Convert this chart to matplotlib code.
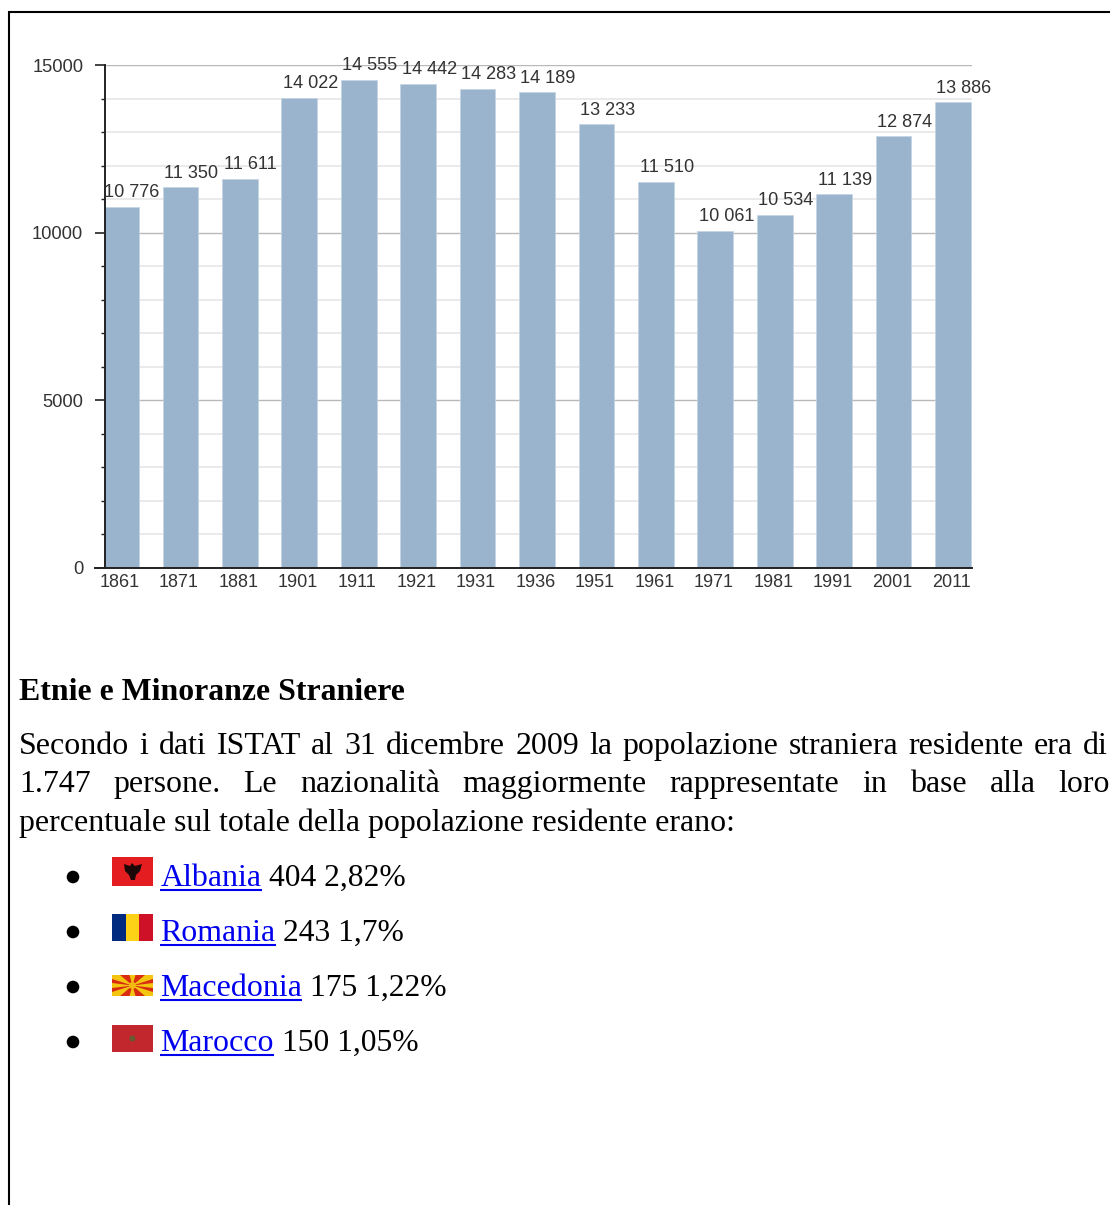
import matplotlib
matplotlib.use('Agg')
import matplotlib.pyplot as plt
from matplotlib.patches import Rectangle, Circle, Polygon
from matplotlib.transforms import ScaledTranslation

years = ['1861', '1871', '1881', '1901', '1911', '1921', '1931', '1936',
         '1951', '1961', '1971', '1981', '1991', '2001', '2011']
population = [10776, 11350, 11611, 14022, 14555, 14442, 14283, 14189,
              13233, 11510, 10061, 10534, 11139, 12874, 13886]
major_ticks = [0, 5000, 10000, 15000]
minor_ticks = [1000, 2000, 3000, 4000, 6000, 7000, 8000, 9000,
               11000, 12000, 13000, 14000]

heading = 'Etnie e Minoranze Straniere'
body_lines = [
    'Secondo i dati ISTAT al 31 dicembre 2009 la popolazione straniera residente era di',
    '1.747 persone. Le nazionalità maggiormente rappresentate in base alla loro',
]
body_last = 'percentuale sul totale della popolazione residente erano:'
countries = ['Albania', 'Romania', 'Macedonia', 'Marocco']
counts = ['404 2,82%', '243 1,7%', '175 1,22%', '150 1,05%']

W, H = 1110, 1205
SERIF = 'Liberation Serif'
SANS = 'Liberation Sans'
PX = 0.72  # points per pixel at dpi 100
BODY = 31.9 * PX
ROW = 31.5 * PX

fig = plt.figure(figsize=(W / 100, H / 100), dpi=100)

# page layer, in pixel coordinates
page = fig.add_axes([0, 0, 1, 1], zorder=0)
page.set_xlim(0, W)
page.set_ylim(H, 0)
page.axis('off')

# chart
ax = fig.add_axes([105 / W, 1 - 568 / H, 867 / W, 503 / H], zorder=1)
ax.patch.set_alpha(0)
ax.bar(range(len(years)), population, width=0.6, color='#9ab4cd',
       edgecolor='#c4d4e3', linewidth=0.5, zorder=3)
ax.set_ylim(0, 15000)
ax.set_yticks(major_ticks)
ax.set_yticks(minor_ticks, minor=True)
ax.set_xticks(range(len(years)), years)
ax.grid(axis='y', which='major', color='#b9b9b9', lw=1.0, zorder=1)
ax.grid(axis='y', which='minor', color='#eaeaea', lw=1.4, zorder=1)
ax.tick_params(axis='y', which='major', length=7.2, width=1.2, color='#222222',
               pad=8.5, labelsize=18.4 * PX, labelcolor='#333333')
ax.tick_params(axis='y', which='minor', length=2.6, width=1.0, color='#222222')
ax.tick_params(axis='x', length=0, pad=4, labelsize=18 * PX, labelcolor='#333333')
for lab in ax.get_yticklabels():
    lab.set_family(SANS)
# year labels sit a little left of the bar centres
shift = ScaledTranslation(-1.5 / 100, 0, fig.dpi_scale_trans)
for lab in ax.get_xticklabels():
    lab.set_family(SANS)
    lab.set_transform(lab.get_transform() + shift)
for side in ['top', 'right']:
    ax.spines[side].set_visible(False)
for side in ['left', 'bottom']:
    ax.spines[side].set_color('#222222')
    ax.spines[side].set_linewidth(1.4)
    ax.spines[side].set_zorder(5)
ax.plot([-0.27 - 10 * 14.59 / 867, -0.27], [0, 0], color='#222222', lw=1.4,
        clip_on=False, zorder=5)
ax.set_xlim(-0.27, 14.32)

for i, v in enumerate(population):
    ax.annotate(f'{v:,}'.replace(',', ' '), (i, v), xytext=(7.9, 10.2),
                textcoords='offset points', ha='center', va='center',
                family=SANS, fontsize=18.2 * PX, color='#333333', zorder=6,
                annotation_clip=False)

# outer frame
page.plot([W, 9, 9], [12, 12, H], color='black', lw=1.5, solid_joinstyle='miter')

page.text(19, 700, heading, family=SERIF, weight='bold', fontsize=31.8 * PX,
          va='baseline', color='black')

renderer = fig.canvas.get_renderer()


def text_width(s, **kw):
    t = page.text(0, 0, s, **kw)
    w = t.get_window_extent(renderer).width
    t.remove()
    return w


def justified(line, y, x0, x1):
    words = line.split(' ')
    widths = [text_width(w, family=SERIF, fontsize=BODY) for w in words]
    gap = (x1 - x0 - sum(widths)) / (len(words) - 1)
    x = x0
    for w, wd in zip(words, widths):
        page.text(x, y, w, family=SERIF, fontsize=BODY, va='baseline', color='black')
        x += wd + gap


justified(body_lines[0], 754, 19, 1108)
justified(body_lines[1], 792, 19, 1110)
page.text(19, 831, body_last, family=SERIF, fontsize=BODY, va='baseline', color='black')

# list rows
baselines = [886, 941, 996, 1051]
for name, rest, y in zip(countries, counts, baselines):
    page.add_patch(Circle((73, y - 9), 6.3, color='black', lw=0))
    page.text(160.5, y, name, family=SERIF, fontsize=BODY, va='baseline', color='#0000ee')
    w = text_width(name, family=SERIF, fontsize=BODY)
    page.plot([160, 160.5 + w], [y + 4, y + 4], color='#0000ee', lw=1.5, solid_capstyle='butt')
    page.text(160.5 + w + 7.5, y, rest, family=SERIF, fontsize=ROW, va='baseline', color='black')


def rect(x, y, w, h, c):
    page.add_patch(Rectangle((x, y), w, h, facecolor=c, lw=0))


# Albania
rect(112, 857, 41, 29, '#e41e20')
page.add_patch(Polygon([(124, 864), (130, 866), (132, 863), (135, 866), (142, 864),
                        (140, 871), (136, 875), (135, 880), (131, 880), (129, 875),
                        (125, 871)], facecolor='#1c0808', lw=0))
# Romania
rect(112, 914, 14, 27, '#002b7f')
rect(126, 914, 13, 27, '#fcd116')
rect(139, 914, 14, 27, '#ce1126')
# Macedonia
rect(112, 975, 41, 21, '#d82b12')
cx, cy = 132.5, 985.5
for tx, ty in [(112, 975), (153, 975), (112, 996), (153, 996)]:
    sx = 1 if tx < cx else -1
    sy = 1 if ty < cy else -1
    page.add_patch(Polygon([(cx, cy), (tx + 8 * sx, ty), (tx, ty), (tx, ty + 4 * sy)],
                           facecolor='#f3c511', lw=0))
for ty in [975, 996]:
    page.add_patch(Polygon([(cx, cy), (cx - 3, ty), (cx + 3, ty)],
                           facecolor='#f3c511', lw=0))
for tx in [112, 153]:
    page.add_patch(Polygon([(cx, cy), (tx, cy - 2.5), (tx, cy + 2.5)],
                           facecolor='#f3c511', lw=0))
page.add_patch(Circle((cx, cy), 3.5, color='#f3b911', lw=0))
# Marocco
rect(112, 1025, 41, 27, '#c1272d')
page.add_patch(Circle((132.5, 1038.5), 3, color='#6a5a34', lw=0))

fig.savefig('out.png', dpi=100)
